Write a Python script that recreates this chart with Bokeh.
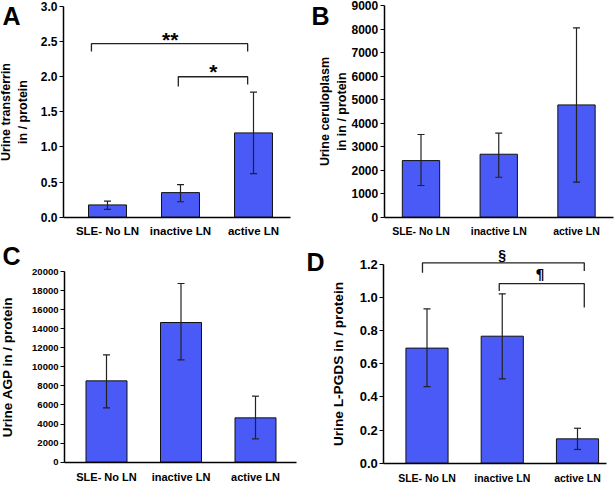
from bokeh.plotting import figure
from bokeh.layouts import row, column
from bokeh.models import (ColumnDataSource, Whisker, TeeHead, Label, FixedTicker,
                          PrintfTickFormatter, Range1d)
from bokeh.embed import file_html
from bokeh.resources import INLINE

categories = ["SLE- No LN", "inactive LN", "active LN"]

transferrin_mean = [0.175, 0.35, 1.20]
transferrin_low = [0.11, 0.22, 0.62]
transferrin_high = [0.23, 0.465, 1.78]

ceruloplasm_mean = [2410, 2680, 4780]
ceruloplasm_low = [1350, 1700, 1490]
ceruloplasm_high = [3520, 3576, 8064]

agp_mean = [8530, 14650, 4650]
agp_low = [5700, 10740, 2450]
agp_high = [11260, 18740, 6920]

lpgds_mean = [0.695, 0.767, 0.147]
lpgds_low = [0.463, 0.509, 0.083]
lpgds_high = [0.932, 1.023, 0.211]

FONT = "Liberation Sans"
BAR = "#4a5af6"
SX = 1.0
SY = 1.0


class Geo:
    """Maps reference-picture pixel positions to this panel's data space."""

    def __init__(self, box, axis_x, y0, ytop, ytop_val, bar_first, bar_last):
        self.rx0, self.ry0, rx1, ry1 = box
        self.w = round(SX * (rx1 - self.rx0))
        self.h = round(SY * (ry1 - self.ry0))
        self.u = SX * (bar_last - bar_first) / 2
        self.c0 = SX * (bar_first - self.rx0)
        self.v = SY * (y0 - ytop) / ytop_val
        self.cy0 = SY * (y0 - self.ry0)
        self.axis_x = self.X(axis_x)

    def xd(self, cx):
        return 0.5 + (cx - self.c0) / self.u

    def yd(self, cy):
        return (self.cy0 - cy) / self.v

    def X(self, rx):
        return self.xd(SX * (rx - self.rx0))

    def Y(self, ry):
        return self.yd(SY * (ry - self.ry0))


def panel(g, letter, letter_ref, means, lows, highs, ylabel, yticks, fmt, ymax, xend_ref,
          bar_w, tick_fs, lab_fs, ylab_fs, ylab_standoff, xlab_standoff):
    p = figure(width=g.w, height=g.h, output_backend="svg", toolbar_location=None,
               x_range=Range1d(g.xd(0), g.xd(g.w)), y_range=Range1d(g.yd(g.h), g.yd(0)),
               min_border=0)
    p.outline_line_color = None
    p.xgrid.visible = False
    p.ygrid.visible = False
    xs = [i + 0.5 for i in range(len(categories))]
    src = ColumnDataSource(dict(x=xs, top=means, lower=lows, upper=highs, cat=categories))
    p.vbar(x="x", top="top", width=bar_w, source=src, fill_color=BAR,
           line_color="#111111", line_width=1)
    head = dict(size=7, line_color="#222222", line_width=1.2)
    p.add_layout(Whisker(base="x", upper="upper", lower="lower", source=src, level="overlay",
                         line_color="#222222", line_width=1.2,
                         upper_head=TeeHead(**head), lower_head=TeeHead(**head)))
    # x axis
    xa = p.xaxis[0]
    xa.fixed_location = 0
    xa.bounds = (g.axis_x, g.X(xend_ref))
    xa.ticker = FixedTicker(ticks=xs)
    xa.major_label_overrides = {x: c for x, c in zip(xs, categories)}
    xa.major_tick_line_color = None
    xa.major_tick_out = 0
    xa.major_tick_in = 0
    xa.minor_tick_line_color = None
    xa.major_label_standoff = xlab_standoff
    xa.major_label_text_font = FONT
    xa.major_label_text_font_style = "bold"
    xa.major_label_text_font_size = f"{lab_fs}px"
    xa.major_label_text_color = "black"
    xa.axis_line_width = 1.5
    xa.axis_line_color = "black"
    # y axis
    ya = p.yaxis[0]
    ya.fixed_location = g.axis_x
    ya.bounds = (0, ymax)
    ya.ticker = FixedTicker(ticks=yticks)
    ya.formatter = PrintfTickFormatter(format=fmt)
    ya.major_tick_out = 4
    ya.major_tick_in = 0
    ya.minor_tick_line_color = None
    ya.major_tick_line_width = 1.2
    ya.major_label_standoff = 2
    ya.major_label_text_font = FONT
    ya.major_label_text_font_style = "bold"
    ya.major_label_text_font_size = f"{tick_fs}px"
    ya.major_label_text_color = "black"
    ya.axis_line_width = 1.5
    ya.axis_line_color = "black"
    ya.axis_label = ylabel
    ya.axis_label_standoff = ylab_standoff
    ya.axis_label_text_font = FONT
    ya.axis_label_text_font_style = "bold"
    ya.axis_label_text_font_size = f"{ylab_fs}px"
    ya.axis_label_text_color = "black"
    p.add_layout(Label(x=g.X(letter_ref[0]), y=g.Y(letter_ref[1]), text=letter,
                       text_font=FONT, text_font_style="bold", text_font_size="25px",
                       text_baseline="alphabetic", text_color="black"))
    return p


def bracket(p, x0, x1, y, y0drop, y1drop, sym, sx, sy, fs, font=FONT):
    p.line(x=[x0, x0, x1, x1], y=[y0drop, y, y, y1drop], line_color="#222222", line_width=1.3)
    p.text(x=[sx], y=[sy], text=[sym], text_align="center", text_baseline="middle",
           text_font={"value": font}, text_font_style="bold", text_font_size=f"{fs}px",
           text_color="black")


ga = Geo((0, 0, 306, 240), 63, 216.7, 6, 3.0, 107, 253)
pa = panel(ga, "A", (2, 15), transferrin_mean, transferrin_low, transferrin_high,
           "Urine transferrin\nin / protein", [0, 0.5, 1.0, 1.5, 2.0, 2.5, 3.0], "%.1f",
           3.0, 290, 0.52, 12, 11.5, 12.5, 8, 8)
bracket(pa, 0.28, 2.42, 2.47, 2.36, 2.36, "**", 1.36, 2.53, 21)
bracket(pa, 1.47, 2.42, 2.0, 1.86, 1.89, "*", 1.95, 2.08, 21)

gb = Geo((306, 0, 616, 240), 383.7, 216.7, 5.3, 9000, 420.5, 576)
pb = panel(gb, "B", (311, 15), ceruloplasm_mean, ceruloplasm_low, ceruloplasm_high,
           "Urine ceruloplasm\nin in / protein", list(range(0, 9001, 1000)), "%d",
           9000, 613, 0.48, 12, 10.5, 12.5, 0, 8)

gc = Geo((0, 240, 306, 483), 64, 461.7, 271, 20000, 106, 255)
pc = panel(gc, "C", (2, 255), agp_mean, agp_low, agp_high,
           "Urine AGP in / protein", list(range(0, 20001, 2000)), "%d",
           20000, 296, 0.55, 9.5, 11, 13.5, 14, 9)

gd = Geo((306, 240, 616, 483), 383.3, 462.7, 264, 1.2, 426.5, 577)
pd_ = panel(gd, "D", (306, 261), lpgds_mean, lpgds_low, lpgds_high,
            "Urine L-PGDS in / protein", [0, 0.2, 0.4, 0.6, 0.8, 1.0, 1.2], "%.1f",
            1.2, 606, 0.56, 13, 10.5, 13.7, 10, 9)
bracket(pd_, 0.44, 2.59, 1.21, 1.15, 1.16, "\u00a7", 1.5, 1.255, 14)
bracket(pd_, 1.46, 2.59, 1.085, 1.04, 0.94, "\u00b6", 2.0, 1.145, 14, font="DejaVu Sans")

layout = column(row(pa, pb), row(pc, pd_))

open("out.html", "w").write(file_html(layout, INLINE))
